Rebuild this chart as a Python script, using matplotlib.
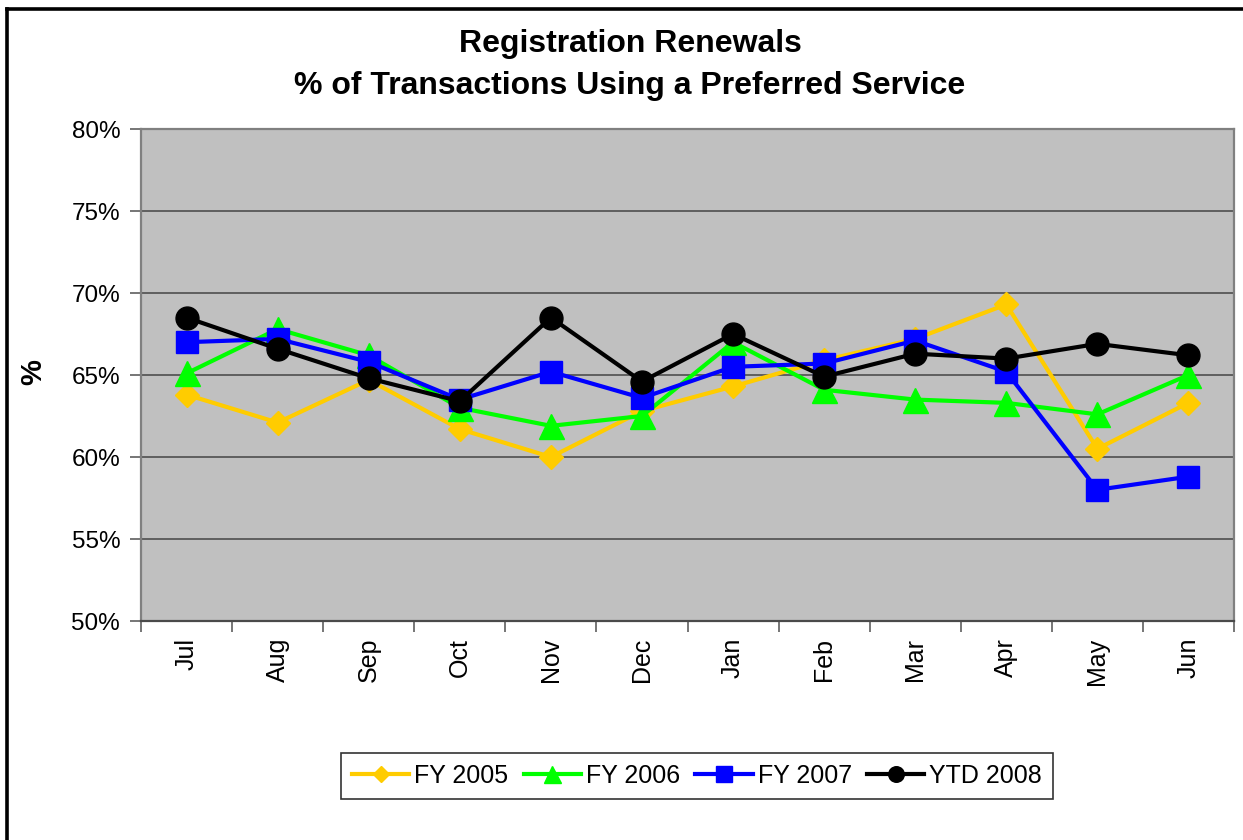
import matplotlib
matplotlib.use("Agg")
import matplotlib.pyplot as plt
from matplotlib.lines import Line2D
import numpy as np

plt.rcParams['font.family'] = ['Liberation Sans', 'DejaVu Sans']

months = ["Jul", "Aug", "Sep", "Oct", "Nov", "Dec", "Jan", "Feb", "Mar", "Apr", "May", "Jun"]
fy2005 = [63.8, 62.1, 64.7, 61.7, 60.0, 62.8, 64.3, 65.9, 67.2, 69.3, 60.5, 63.3]
fy2006 = [65.1, 67.8, 66.2, 63.0, 61.9, 62.5, 67.0, 64.1, 63.5, 63.3, 62.6, 65.0]
fy2007 = [67.0, 67.2, 65.8, 63.5, 65.2, 63.6, 65.5, 65.7, 67.1, 65.2, 58.0, 58.8]
ytd2008 = [68.5, 66.6, 64.8, 63.4, 68.5, 64.6, 67.5, 64.9, 66.3, 66.0, 66.9, 66.2]
yticks = [50, 55, 60, 65, 70, 75, 80]

W, H = 1243, 840
fig = plt.figure(figsize=(W / 100, H / 100), dpi=100)
fig.patch.set_facecolor('white')

# figure border (top and left visible)
fig.add_artist(Line2D([6.5 / W, 6.5 / W], [0, 1 - 9 / H], color='black', lw=2.6,
                      transform=fig.transFigure, solid_capstyle='projecting'))
fig.add_artist(Line2D([6.5 / W, 1], [1 - 9 / H, 1 - 9 / H], color='black', lw=2.6,
                      transform=fig.transFigure, solid_capstyle='projecting'))

left, right, top, bottom = 141, 1234, 129, 621
ax = fig.add_axes([left / W, 1 - bottom / H, (right - left) / W, (bottom - top) / H])
ax.set_facecolor('#C0C0C0')

x = np.arange(len(months))
ax.set_xlim(-0.5, len(months) - 0.5)
ax.set_ylim(50, 80)

for v in yticks[1:-1]:
    ax.axhline(v, color='#5f5f5f', lw=1.4, zorder=1)

series = [
    ("FY 2005", fy2005, '#FFCC00', 'D', 12.5),
    ("FY 2006", fy2006, '#00FF00', '^', 18),
    ("FY 2007", fy2007, '#0000FF', 's', 16.5),
    ("YTD 2008", ytd2008, '#000000', 'o', 16.5),
]
handles = []
for name, vals, col, mk, ms in series:
    ax.plot(x, vals, color=col, lw=3.0, marker=mk, markersize=ms,
            markerfacecolor=col, markeredgecolor=col, zorder=3, clip_on=False)
    handles.append(Line2D([], [], color=col, lw=3.0, marker=mk,
                          markersize=ms * 0.68, markerfacecolor=col, markeredgecolor=col))

ax.set_yticks(yticks)
ax.set_yticklabels([f"{v}%" for v in yticks], fontsize=17.5)
ax.set_xticks(x)
ax.set_xticklabels(months, rotation=90, fontsize=18, va='top')
ax.set_xticks(np.arange(-0.5, len(months), 1), minor=True)
ax.tick_params(axis='x', which='major', length=0, pad=12)
ax.tick_params(axis='x', which='minor', length=8, width=1.2, color='#5f5f5f', direction='out')
ax.tick_params(axis='y', length=8, width=1.2, color='#5f5f5f', direction='out', pad=7)

for s in ['left', 'right', 'top']:
    ax.spines[s].set_color('#808080')
    ax.spines[s].set_linewidth(1.6)
ax.spines['bottom'].set_color('#4a4a4a')
ax.spines['bottom'].set_linewidth(1.6)

fig.text(33 / W, 1 - 372 / H, "%", rotation=90, fontsize=21, fontweight='bold',
         ha='center', va='center')

fig.text(630 / W, 1 - 44 / H, "Registration Renewals", fontsize=23, fontweight='bold',
         ha='center', va='center')
fig.text(630 / W, 1 - 86 / H, "% of Transactions Using a Preferred Service", fontsize=23,
         fontweight='bold', ha='center', va='center')

leg = fig.legend(handles=handles, labels=[s[0] for s in series], ncol=4,
                 loc='center', bbox_to_anchor=(697 / W, 1 - 776 / H),
                 fontsize=18, frameon=True, fancybox=False, handlelength=2.3,
                 handletextpad=0.2, columnspacing=0.6, borderpad=0.45,
                 borderaxespad=0)
leg.get_frame().set_edgecolor('black')
leg.get_frame().set_linewidth(1.2)

fig.savefig("out.png", dpi=100, facecolor='white')
